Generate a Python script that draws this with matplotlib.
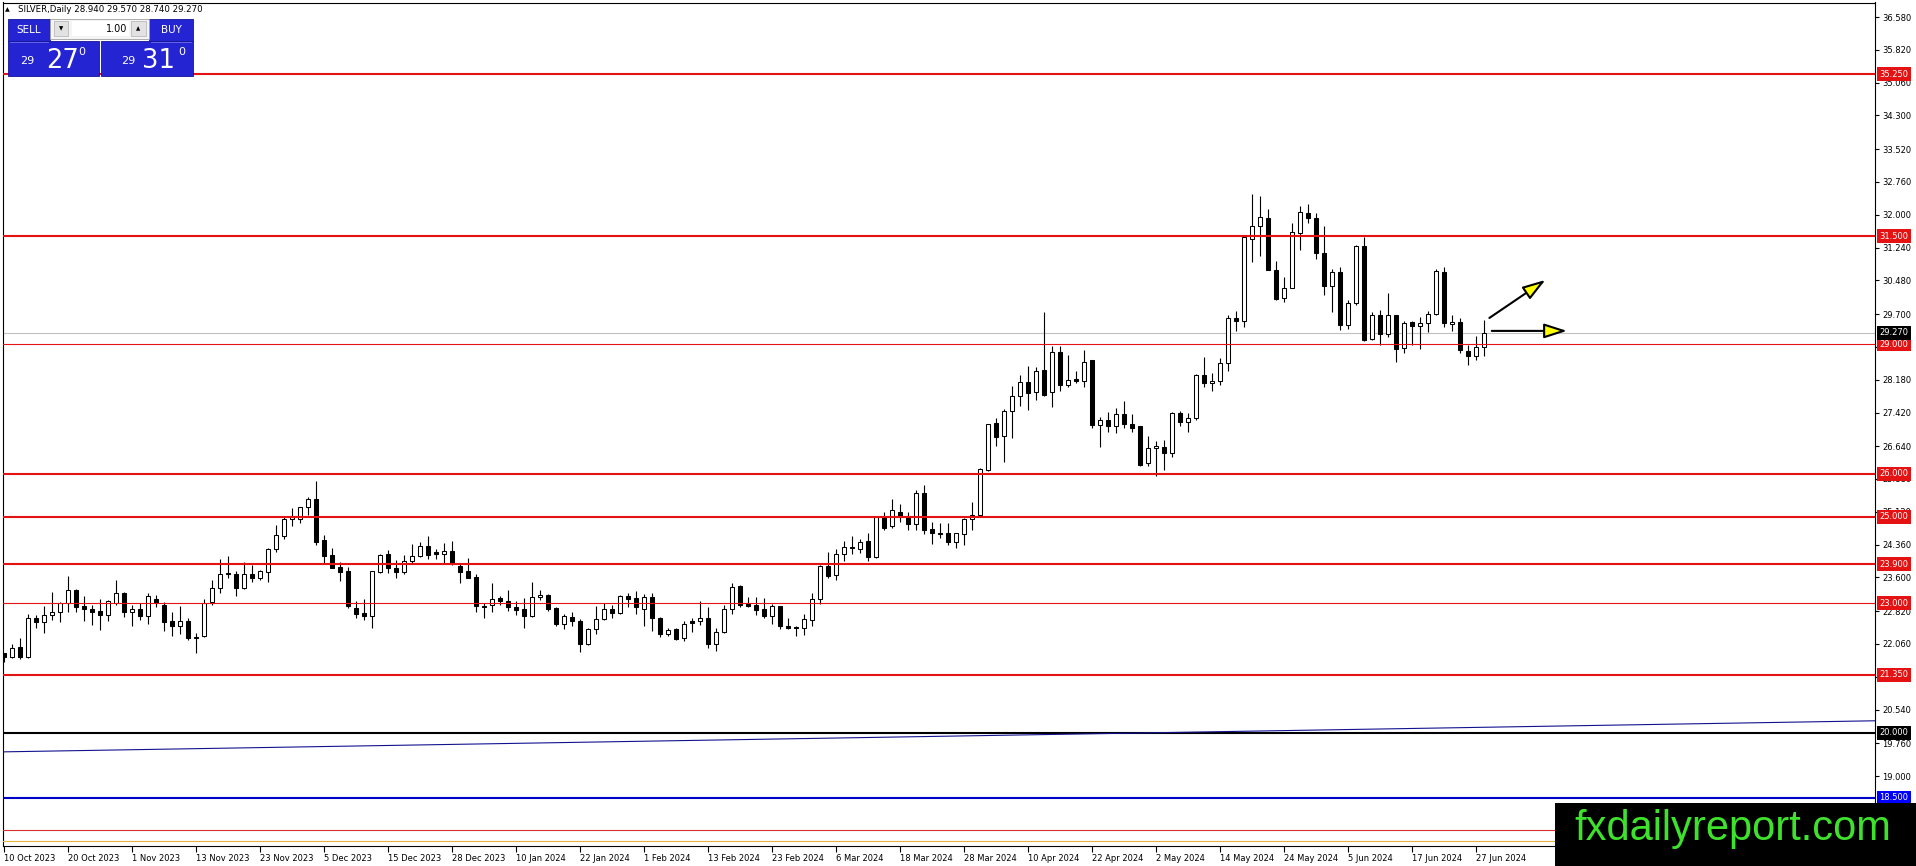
import numpy as np
import matplotlib.pyplot as plt
from matplotlib.patches import Rectangle, FancyArrowPatch

# SILVER daily bars, 10 Oct 2023 .. 28 Jun 2024
OPEN = [21.84, 21.76, 21.98, 21.76, 22.67, 22.56, 22.74, 22.80, 23.00, 23.31,
        22.93, 22.86, 22.82, 22.74, 23.00, 23.24, 22.79, 22.88, 22.70, 23.11,
        22.97, 22.59, 22.48, 22.59, 22.19, 22.25, 23.03, 23.36, 23.70, 23.67,
        23.36, 23.67, 23.58, 23.73, 24.27, 24.56, 24.96, 24.95, 25.22, 25.41,
        24.46, 24.12, 23.85, 23.75, 22.90, 22.78, 22.71, 23.73, 24.14, 23.82,
        23.73, 23.98, 24.09, 24.33, 24.18, 24.15, 24.21, 23.87, 23.75, 23.60,
        22.94, 22.96, 23.13, 23.05, 22.92, 22.87, 22.71, 23.14, 23.20, 22.89,
        22.52, 22.69, 22.58, 22.06, 22.41, 22.64, 22.88, 22.78, 23.16, 23.12,
        22.88, 23.14, 22.67, 22.30, 22.41, 22.20, 22.58, 22.58, 22.65, 22.07,
        22.33, 22.88, 23.41, 23.00, 22.96, 22.87, 22.70, 22.93, 22.48, 22.46,
        22.42, 22.62, 23.10, 23.87, 23.66, 24.14, 24.30, 24.27, 24.44, 24.08,
        24.99, 24.78, 25.12, 25.02, 24.84, 25.55, 24.72, 24.64, 24.64, 24.41,
        24.61, 24.95, 25.05, 26.09, 27.17, 26.88, 27.45, 27.81, 28.12, 27.89,
        28.41, 27.89, 28.82, 28.06, 28.19, 28.16, 28.64, 27.14, 27.25, 27.11,
        27.38, 27.15, 27.10, 26.25, 26.59, 26.61, 26.49, 27.41, 27.19, 27.29,
        28.28, 28.10, 28.15, 28.56, 29.61, 29.53, 31.44, 31.75, 31.92, 30.73,
        30.07, 30.30, 31.58, 32.04, 31.92, 31.11, 30.34, 30.67, 29.45, 29.96,
        31.28, 29.12, 29.67, 29.24, 29.67, 28.91, 29.51, 29.43, 29.49, 29.71,
        30.67, 29.46, 29.51, 28.85, 28.72, 28.94]
HIGH = [21.86, 22.07, 22.19, 22.75, 22.73, 22.93, 23.27, 23.03, 23.63, 23.33,
        23.17, 22.96, 23.09, 23.07, 23.54, 23.27, 22.97, 23.00, 23.24, 23.19,
        23.03, 22.80, 22.93, 22.66, 22.32, 23.11, 23.55, 24.02, 24.09, 23.75,
        23.95, 23.88, 23.77, 24.29, 24.81, 25.00, 25.20, 25.23, 25.47, 25.83,
        24.58, 24.29, 23.96, 23.85, 23.05, 23.10, 23.76, 24.15, 24.23, 24.00,
        24.12, 24.37, 24.42, 24.56, 24.27, 24.39, 24.44, 23.92, 24.04, 23.68,
        23.00, 23.46, 23.17, 23.32, 23.06, 23.12, 23.49, 23.31, 23.22, 22.91,
        22.75, 22.81, 22.64, 22.42, 22.95, 23.00, 22.96, 23.19, 23.25, 23.28,
        23.22, 23.23, 22.68, 22.44, 22.42, 22.60, 22.67, 23.05, 22.91, 22.42,
        22.96, 23.47, 23.42, 23.14, 23.14, 23.12, 22.98, 22.95, 22.67, 22.47,
        22.75, 23.24, 23.89, 24.18, 24.26, 24.45, 24.57, 24.50, 24.64, 25.01,
        25.12, 25.42, 25.30, 25.11, 25.63, 25.74, 24.89, 24.85, 24.85, 24.62,
        24.97, 25.34, 26.13, 27.15, 27.29, 27.49, 28.03, 28.29, 28.49, 28.47,
        29.74, 28.95, 28.97, 28.76, 28.37, 28.87, 28.64, 27.31, 27.43, 27.52,
        27.69, 27.38, 27.11, 26.88, 26.75, 26.79, 27.44, 27.46, 27.42, 28.31,
        28.70, 28.33, 28.68, 29.68, 29.78, 31.54, 32.47, 32.44, 32.13, 30.94,
        30.56, 31.81, 32.21, 32.26, 32.04, 31.73, 30.74, 30.80, 30.02, 31.31,
        31.48, 29.74, 29.80, 30.19, 29.68, 29.53, 29.53, 29.63, 29.76, 30.74,
        30.79, 29.67, 29.61, 28.99, 29.20, 29.57]
LOW = [21.65, 21.74, 21.70, 21.74, 22.42, 22.32, 22.61, 22.57, 22.80, 22.80,
       22.59, 22.50, 22.39, 22.59, 22.97, 22.69, 22.48, 22.61, 22.53, 22.92,
       22.36, 22.25, 22.30, 22.15, 21.84, 22.22, 22.97, 23.23, 23.59, 23.17,
       23.34, 23.50, 23.54, 23.50, 24.19, 24.50, 24.79, 24.87, 25.04, 24.35,
       23.90, 23.81, 23.51, 22.90, 22.66, 22.61, 22.44, 23.71, 23.71, 23.58,
       23.69, 23.91, 24.08, 24.02, 24.02, 23.91, 23.88, 23.47, 23.58, 22.79,
       22.65, 22.79, 22.96, 22.83, 22.73, 22.44, 22.69, 23.08, 22.83, 22.47,
       22.41, 22.48, 21.88, 22.03, 22.29, 22.62, 22.67, 22.75, 22.91, 22.75,
       22.48, 22.37, 22.21, 22.24, 22.14, 22.12, 22.33, 22.50, 21.96, 21.90,
       22.31, 22.75, 22.91, 22.91, 22.73, 22.65, 22.52, 22.41, 22.41, 22.24,
       22.27, 22.48, 22.98, 23.58, 23.53, 23.97, 24.14, 24.17, 23.97, 24.04,
       24.71, 24.74, 24.89, 24.71, 24.71, 24.61, 24.37, 24.51, 24.34, 24.28,
       24.36, 24.71, 25.04, 26.07, 26.65, 26.27, 26.83, 27.58, 27.48, 27.70,
       27.81, 27.54, 27.92, 28.02, 28.10, 28.02, 27.06, 26.62, 26.98, 26.94,
       27.06, 26.98, 26.19, 26.19, 25.96, 26.08, 26.38, 27.10, 26.96, 27.24,
       28.01, 27.91, 28.05, 28.39, 29.30, 29.41, 30.90, 31.04, 30.71, 30.02,
       29.99, 30.30, 31.19, 31.81, 30.97, 30.13, 29.75, 29.34, 29.35, 29.92,
       29.07, 29.09, 28.99, 29.18, 28.60, 28.80, 28.99, 28.89, 29.29, 29.68,
       29.41, 29.30, 28.80, 28.53, 28.63, 28.74]
CLOSE = [21.76, 21.97, 21.76, 22.65, 22.56, 22.74, 22.80, 23.01, 23.32, 22.92,
         22.86, 22.80, 22.74, 23.05, 23.23, 22.79, 22.88, 22.71, 23.17, 23.00,
         22.57, 22.48, 22.59, 22.20, 22.23, 23.01, 23.36, 23.69, 23.67, 23.36,
         23.69, 23.58, 23.75, 24.27, 24.58, 24.96, 25.00, 25.22, 25.41, 24.42,
         24.10, 23.83, 23.73, 22.93, 22.75, 22.70, 23.75, 24.12, 23.81, 23.73,
         23.98, 24.09, 24.33, 24.13, 24.15, 24.22, 23.90, 23.73, 23.59, 22.93,
         22.92, 23.11, 23.05, 22.92, 22.84, 22.71, 23.14, 23.19, 22.88, 22.52,
         22.70, 22.58, 22.06, 22.41, 22.64, 22.88, 22.77, 23.16, 23.10, 22.91,
         23.14, 22.65, 22.30, 22.39, 22.17, 22.53, 22.55, 22.65, 22.07, 22.33,
         22.88, 23.39, 22.96, 22.95, 22.85, 22.71, 22.93, 22.48, 22.42, 22.43,
         22.64, 23.10, 23.87, 23.64, 24.14, 24.30, 24.28, 24.43, 24.08, 24.99,
         24.74, 25.16, 25.03, 24.84, 25.56, 24.71, 24.62, 24.61, 24.41, 24.62,
         24.95, 25.05, 26.11, 27.15, 26.86, 27.45, 27.81, 28.12, 27.88, 28.39,
         27.82, 28.82, 28.05, 28.17, 28.16, 28.60, 27.12, 27.25, 27.10, 27.38,
         27.15, 27.07, 26.21, 26.59, 26.65, 26.49, 27.41, 27.19, 27.29, 28.28,
         28.10, 28.15, 28.56, 29.61, 29.53, 31.48, 31.75, 31.95, 30.73, 30.06,
         30.30, 31.60, 32.06, 31.92, 31.11, 30.34, 30.67, 29.44, 29.96, 31.28,
         29.10, 29.67, 29.24, 29.67, 28.90, 29.49, 29.43, 29.49, 29.71, 30.70,
         29.49, 29.51, 28.86, 28.72, 28.94, 29.27]

# one date label every 8 bars, starting at the first bar
DATE_LABELS = ['10 Oct 2023', '20 Oct 2023', '1 Nov 2023', '13 Nov 2023',
               '23 Nov 2023', '5 Dec 2023', '15 Dec 2023', '28 Dec 2023',
               '10 Jan 2024', '22 Jan 2024', '1 Feb 2024', '13 Feb 2024',
               '23 Feb 2024', '6 Mar 2024', '18 Mar 2024', '28 Mar 2024',
               '10 Apr 2024', '22 Apr 2024', '2 May 2024', '14 May 2024',
               '24 May 2024', '5 Jun 2024', '17 Jun 2024', '27 Jun 2024']
BARS_PER_LABEL = 8

PRICE_TICKS = [36.58, 35.82, 35.06, 34.30, 33.52, 32.76, 32.00, 31.24, 30.48,
               29.70, 28.94, 28.18, 27.42, 26.64, 25.88, 25.12, 24.36, 23.60,
               22.82, 22.06, 21.30, 20.54, 19.76, 19.00, 18.24]

# horizontal levels drawn on the chart
RED_THICK = [35.25, 31.50, 26.00, 25.00, 23.90, 21.35]
RED_THIN = [29.00, 23.00]
BID = 29.27
BLACK_LEVEL = 20.00
BLUE_LEVEL = 18.50
BOTTOM_RED = 17.74
BOTTOM_ORANGE = 17.50
# trend line (bar index, price)
TREND_X = [-0.2, 233.9]
TREND_Y = [19.56, 20.28]
# yellow arrows (bar index, price)
ARROW_UP = ((185.7, 29.61), (192.7, 30.49))
ARROW_FLAT = ((186.0, 29.31), (195.4, 29.31))

HEADER = 'SILVER,Daily 28.940 29.570 28.740 29.270'

W, H = 1916, 866
AX_L, AX_R, AX_T, AX_B = 2.5, 1875.0, 2.5, 846.0
RED = '#e41212'

plt.rcParams['font.family'] = ['DejaVu Sans']


def draw_candles(ax):
    o, h, l, c = map(np.array, (OPEN, HIGH, LOW, CLOSE))
    x = np.arange(len(o))
    up = c >= o
    bottom = np.minimum(o, c)
    height = np.maximum(np.abs(c - o), 0.025)
    ax.vlines(x, l, h, colors='black', lw=0.8, zorder=3)
    ax.bar(x[up], height[up], bottom=bottom[up], width=0.52,
           facecolor='white', edgecolor='black', lw=0.75, zorder=4)
    ax.bar(x[~up], height[~up], bottom=bottom[~up], width=0.52,
           facecolor='black', edgecolor='black', lw=0.75, zorder=4)


def draw_levels(ax):
    ax.axhline(BID, color='#c0c0c0', lw=0.8, zorder=2)
    for v in RED_THICK:
        ax.axhline(v, color=RED, lw=1.5, zorder=5)
    for v in RED_THIN:
        ax.axhline(v, color=RED, lw=0.8, zorder=5)
    ax.axhline(BLACK_LEVEL, color='black', lw=1.5, zorder=5)
    ax.axhline(BLUE_LEVEL, color='#0000c8', lw=1.5, zorder=5)
    ax.axhline(BOTTOM_RED, color='#d83030', lw=0.8, zorder=5)
    ax.axhline(BOTTOM_ORANGE, color='#e8b040', lw=0.8, zorder=5)
    ax.plot(TREND_X, TREND_Y, color='#121290', lw=0.8, zorder=5)

    # price tags at the right edge, drawn over the tick labels like the terminal does
    tags = [(v, RED) for v in RED_THICK + RED_THIN]
    tags += [(BID, 'black'), (BLACK_LEVEL, 'black'), (BLUE_LEVEL, '#0000ff')]
    tag_x = (1879.5 - AX_L) / (AX_R - AX_L)
    for v, col in tags:
        ax.text(tag_x, v, f'{v:.3f}', transform=ax.get_yaxis_transform(),
                ha='left', va='center', color='white', fontsize=6,
                clip_on=False, zorder=8,
                bbox=dict(boxstyle='square,pad=0.3', fc=col, ec='none'))

    for (p0, p1) in (ARROW_UP, ARROW_FLAT):
        arr = FancyArrowPatch(p0, p1, arrowstyle='-|>,head_length=1.4,head_width=0.45',
                              mutation_scale=10, fc='#ffff00', ec='black', lw=1.5,
                              shrinkA=0, shrinkB=0, zorder=7)
        ax.add_patch(arr)


def draw_panel(ov):
    ov.text(5, 10, '\u25b2', fontsize=4.5, va='center', ha='left')
    ov.text(18, 10, HEADER, fontsize=6.2, va='center', ha='left')

    blue = '#2424d2'
    dark = '#14149a'
    ov.add_patch(Rectangle((8, 19), 42, 22, fc=blue, ec=dark, lw=0.6))
    ov.add_patch(Rectangle((149, 19), 44, 22, fc=blue, ec=dark, lw=0.6))
    ov.add_patch(Rectangle((50, 19), 99, 20, fc='#f4f4f4', ec='#a0a0a0', lw=0.6))
    ov.add_patch(Rectangle((54, 21), 14, 15, fc='#e2e2e2', ec='#b0b0b0', lw=0.5))
    ov.add_patch(Rectangle((131, 21), 15, 15, fc='#e2e2e2', ec='#b0b0b0', lw=0.5))
    ov.add_patch(Rectangle((72, 21), 57, 15, fc='white', ec='none'))
    ov.add_patch(Rectangle((8, 41), 91, 35, fc=blue, ec=dark, lw=0.6))
    ov.add_patch(Rectangle((101, 41), 92, 35, fc=blue, ec=dark, lw=0.6))
    ov.plot([10, 48], [42, 42], color='#7070e8', lw=0.6)
    ov.plot([151, 191], [42, 42], color='#7070e8', lw=0.6)

    ov.text(29, 30, 'SELL', color='white', fontsize=7.5, ha='center', va='center')
    ov.text(171, 30, 'BUY', color='white', fontsize=7.5, ha='center', va='center')
    ov.text(127, 29, '1.00', color='black', fontsize=7, ha='right', va='center')
    ov.text(61, 29, '\u25bc', color='black', fontsize=4, ha='center', va='center')
    ov.text(138.5, 29, '\u25b2', color='black', fontsize=4, ha='center', va='center')

    for x0 in (20, 121):
        ov.text(x0, 63.5, '29', color='white', fontsize=8, ha='left', va='baseline')
    ov.text(46, 68.5, '27', color='white', fontsize=18.5, ha='left', va='baseline')
    ov.text(142, 68.5, '31', color='white', fontsize=18.5, ha='left', va='baseline')
    for x0 in (78, 178):
        ov.text(x0, 55, '0', color='white', fontsize=8, ha='left', va='baseline')

    # watermark
    ov.add_patch(Rectangle((1555, 803), W - 1555, H - 803, fc='black', ec='none', zorder=20))
    ov.text(1733, 829, 'fxdailyreport.com', color='#3ee22c', fontsize=30,
            family=['Liberation Sans', 'DejaVu Sans'], ha='center', va='center', zorder=21)


def main():
    fig = plt.figure(figsize=(W / 100, H / 100), dpi=100)
    ax = fig.add_axes([AX_L / W, 1 - AX_B / H, (AX_R - AX_L) / W, (AX_B - AX_T) / H])
    ax.set_xlim(-0.15, 233.9)
    ax.set_ylim(17.38, 36.916)

    draw_candles(ax)
    draw_levels(ax)

    ax.yaxis.tick_right()
    ax.set_yticks(PRICE_TICKS)
    ax.set_yticklabels([f'{v:.3f}' for v in PRICE_TICKS])
    ax.tick_params(axis='y', direction='out', length=3, width=0.8, labelsize=6, pad=2)
    ax.set_xticks(np.arange(len(DATE_LABELS)) * BARS_PER_LABEL)
    ax.set_xticklabels(DATE_LABELS, ha='left')
    ax.tick_params(axis='x', direction='out', length=4, width=0.8, labelsize=6, pad=2)
    for sp in ax.spines.values():
        sp.set_linewidth(0.8)
        sp.set_color('black')

    ov = fig.add_axes([0, 0, 1, 1])
    ov.set_zorder(10)
    ov.set_xlim(0, W)
    ov.set_ylim(H, 0)
    ov.set_facecolor('none')
    ov.axis('off')
    draw_panel(ov)

    fig.savefig('out.png', dpi=100, facecolor='white')


if __name__ == '__main__':
    main()
